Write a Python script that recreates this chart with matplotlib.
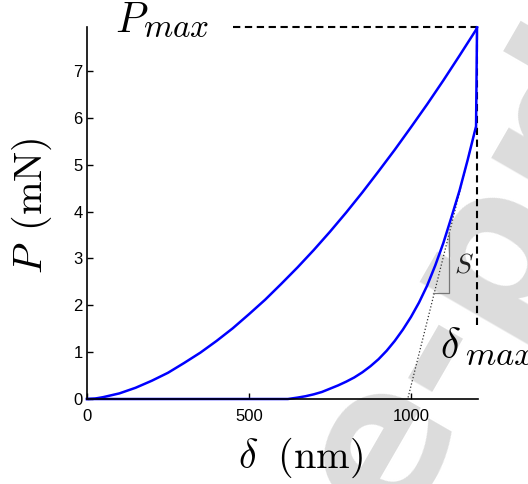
import matplotlib.pyplot as plt

plt.rcParams['mathtext.fontset'] = 'cm'
plt.rcParams['font.family'] = ['Liberation Sans', 'DejaVu Sans']

# loading branch (nm, mN)
load_d = [0, 25, 50, 75, 100, 150, 200, 250, 300, 350, 400, 450, 500, 550, 600, 650, 700,
          750, 800, 850, 900, 950, 1000, 1050, 1100, 1150, 1200, 1204]
load_p = [0, 0.01, 0.04, 0.08, 0.12, 0.24, 0.39, 0.56, 0.77, 0.99, 1.24, 1.51, 1.81, 2.12, 2.46,
          2.81, 3.18, 3.57, 3.98, 4.41, 4.86, 5.32, 5.80, 6.29, 6.80, 7.33, 7.87, 7.93]

# hold + unloading branch
unload_d = [1204, 1201, 1175, 1150, 1125, 1100, 1075, 1050, 1025, 1000, 975, 950, 925, 900,
            875, 850, 825, 800, 775, 750, 725, 700, 675, 650, 620, 0]
unload_p = [7.93, 5.82, 5.10, 4.45, 3.88, 3.33, 2.85, 2.42, 2.06, 1.75, 1.48, 1.24, 1.03, 0.85,
            0.70, 0.57, 0.46, 0.37, 0.29, 0.22, 0.15, 0.10, 0.06, 0.03, 0, 0]

# tangent at start of unloading, and slope triangle
tan_d = [1201, 990]
tan_p = [5.82, 0]
tri_d = [1069, 1117, 1117]
tri_p = [2.26, 2.26, 3.54]

d_max = 1203
p_max = 7.93

fig = plt.figure(figsize=(5.28, 4.84), dpi=100)
ax = fig.add_axes([0.1648, 0.1756, 0.7405, 0.7686])
ax.patch.set_visible(False)

fig.text(0.745, -0.099, 'e-print', rotation=60, rotation_mode='anchor', fontsize=144,
         fontweight='bold', family='DejaVu Sans', color='#dcdcdc',
         ha='left', va='baseline', zorder=-1)

ax.plot([451, d_max], [p_max, p_max], 'k--', lw=1.5, dashes=(3.5, 2.2), clip_on=False)
ax.plot([d_max, d_max], [1.58, p_max], 'k--', lw=1.5, dashes=(3.5, 2.2), clip_on=False)
ax.plot(tan_d, tan_p, ':', color='#333333', lw=0.9)
ax.plot(tri_d, tri_p, '-', color='#777777', lw=0.9)

ax.plot(load_d, load_p, color='#0000ff', lw=1.8, clip_on=False)
ax.plot(unload_d, unload_p, color='#0000ff', lw=1.8, clip_on=False)

ax.text(86, 7.83, r'$P$', fontsize=30, ha='left', va='baseline')
ax.text(172, 7.73, r'$max$', fontsize=24, ha='left', va='baseline')
ax.text(1089, 0.87, r'$\delta$', fontsize=30, ha='left', va='baseline')
ax.text(1166, 0.73, r'$max$', fontsize=25, ha='left', va='baseline')
ax.text(1132, 2.86, r'$S$', fontsize=20, ha='left', va='center', color='#222222')

ax.set_xlim(0, 1207)
ax.set_ylim(0, 7.94)
ax.set_xticks([0, 500, 1000])
ax.set_yticks(range(8))
ax.tick_params(direction='in', length=4, width=1, labelsize=12)
ax.tick_params(axis='x', pad=7)
ax.tick_params(axis='y', pad=3)
for s in ['top', 'right']:
    ax.spines[s].set_visible(False)
for s in ['left', 'bottom']:
    ax.spines[s].set_linewidth(1.2)

ax.set_xlabel(r'$\delta\ \;(\mathrm{nm})$', fontsize=29)
ax.set_ylabel(r'$P\ \,(\mathrm{mN})$', fontsize=29)
ax.xaxis.set_label_coords(0.545, -0.1)
ax.yaxis.set_label_coords(-0.085, 0.52)

fig.savefig('out.png', dpi=100)
